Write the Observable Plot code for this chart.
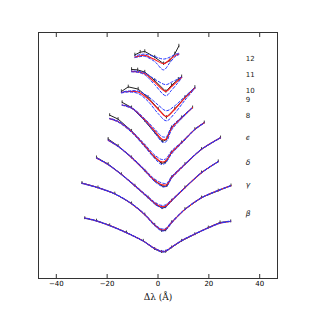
<!DOCTYPE html>
<html><head><meta charset="utf-8">
<script src="https://cdn.jsdelivr.net/npm/d3@7"></script>
<script src="https://cdn.jsdelivr.net/npm/@observablehq/plot@0.6"></script>
<style>body{margin:0;background:#fff}</style>
</head><body><div id="chart"></div>
<script>
// Series names (Balmer lines), bottom to top
const lineNames = ["β","γ","δ","ϵ","8","9","10","11","12"];
const labelY = [2.62, 3.81, 4.72, 5.71, 6.61, 7.25, 7.62, 8.27, 8.92];
const labelX = 34.5;
const xTicks = [-40, -20, 0, 20, 40];

// Wavelength offsets of sampled points (Å), one list per line
const lineX = [
  [-28.8,-24.2,-19.0,-12.4,-5.8,-1.3,1.4,3.0,5.3,9.3,14.5,19.8,24.4,28.6],
  [-29.9,-23.6,-17.0,-10.4,-5.2,-1.3,1.4,3.0,5.3,10.6,17.1,23.7,28.7],
  [-24.2,-19.6,-14.4,-9.1,-3.9,-0.7,1.6,3.0,5.3,10.6,17.1,23.7],
  [-19.6,-15.7,-10.4,-5.2,-1.3,2.0,3.5,5.3,10.6,17.1,24.6],
  [-19.0,-15.7,-10.4,-5.2,-1.3,1.4,3.0,5.3,9.3,14.5,18.2],
  [-14.1,-10.4,-5.2,-1.3,1.8,3.3,5.3,9.3,13.6],
  [-14.4,-11.7,-7.8,-3.9,0.1,3.3,6.6,10.6,14.5],
  [-10.4,-8.0,-5.2,-1.3,3.1,5.3,8.0,9.3],
  [-9.1,-7.0,-5.2,-1.3,2.2,4.7,6.6,8.2]
];
// Observed (offset) profiles
const lineObs = [
  [2.45,2.35,2.16,1.87,1.53,1.20,1.08,1.09,1.26,1.53,1.80,2.07,2.28,2.32],
  [3.88,3.70,3.45,3.05,2.60,2.18,1.94,1.96,2.28,2.82,3.29,3.57,3.78],
  [4.92,4.65,4.24,3.77,3.29,3.00,2.86,2.90,3.16,3.70,4.31,4.76],
  [5.67,5.39,4.92,4.38,3.97,3.74,3.76,4.11,4.65,5.26,5.73],
  [6.64,6.48,6.00,5.39,4.92,4.68,4.72,5.12,5.53,6.07,6.34],
  [7.16,6.95,6.41,5.93,5.57,5.65,6.14,6.55,6.95],
  [7.60,7.79,7.70,7.36,6.89,6.55,6.89,7.36,7.77],
  [8.50,8.48,8.39,8.05,7.60,7.85,8.10,8.20],
  [9.09,9.20,9.23,9.00,8.73,8.86,9.13,9.45]
];
const obsErr = [0.06,0.06,0.06,0.06,0.06,0.06,0.07,0.07,0.07];
// Best fit (red)
const lineFit = [
  [2.46,2.34,2.15,1.86,1.52,1.22,1.10,1.12,1.27,1.54,1.81,2.06,2.25,2.33],
  [3.87,3.69,3.44,3.04,2.60,2.17,1.98,2.00,2.27,2.81,3.28,3.58,3.77],
  [4.90,4.63,4.23,3.77,3.30,3.02,2.92,2.95,3.17,3.69,4.30,4.75],
  [5.62,5.37,4.92,4.40,3.99,3.80,3.82,4.10,4.64,5.25,5.72],
  [6.50,6.38,5.97,5.40,4.95,4.74,4.78,5.12,5.52,6.06,6.33],
  [7.05,6.93,6.45,6.00,5.65,5.67,6.10,6.53,6.95],
  [7.56,7.60,7.58,7.30,6.88,6.58,6.88,7.34,7.75],
  [8.42,8.40,8.32,7.98,7.60,7.80,8.05,8.18],
  [9.00,9.05,9.07,8.90,8.73,8.90,9.05,9.13]
];
// Bounding fits (blue dashed): shallow and deep
const lineFitHi = [
  [2.47,2.35,2.16,1.87,1.53,1.23,1.12,1.14,1.28,1.55,1.82,2.07,2.26,2.34],
  [3.88,3.70,3.45,3.05,2.62,2.20,2.02,2.04,2.30,2.82,3.29,3.59,3.78],
  [4.91,4.64,4.24,3.79,3.33,3.06,2.97,3.00,3.20,3.70,4.31,4.76],
  [5.63,5.38,4.94,4.43,4.04,3.87,3.88,4.14,4.66,5.26,5.73],
  [6.51,6.40,6.00,5.45,5.02,4.84,4.86,5.18,5.55,6.07,6.34],
  [7.06,6.95,6.49,6.07,5.76,5.77,6.17,6.56,6.96],
  [7.58,7.62,7.62,7.40,7.05,6.82,7.02,7.40,7.77],
  [8.44,8.42,8.36,8.10,7.88,7.98,8.12,8.20],
  [9.05,9.10,9.12,9.02,8.92,9.00,9.10,9.16]
];
const lineFitLo = [
  [2.45,2.33,2.14,1.85,1.51,1.20,1.08,1.10,1.26,1.53,1.80,2.05,2.24,2.32],
  [3.86,3.68,3.43,3.03,2.58,2.14,1.94,1.96,2.24,2.80,3.27,3.57,3.76],
  [4.89,4.62,4.22,3.75,3.27,2.98,2.87,2.90,3.14,3.68,4.29,4.74],
  [5.61,5.36,4.90,4.37,3.94,3.73,3.76,4.06,4.62,5.24,5.71],
  [6.49,6.36,5.94,5.35,4.88,4.64,4.70,5.06,5.49,6.05,6.32],
  [7.04,6.91,6.41,5.93,5.54,5.57,6.03,6.50,6.94],
  [7.54,7.58,7.52,7.20,6.70,6.41,6.72,7.25,7.72],
  [8.40,8.38,8.28,7.88,7.43,7.65,7.98,8.15],
  [8.98,9.02,9.03,8.82,8.48,8.78,9.00,9.10]
];

const rows = lineNames.flatMap((name, i) => lineX[i].map((x, j) => ({
  name, x,
  obs: lineObs[i][j], err: obsErr[i],
  fit: lineFit[i][j], hi: lineFitHi[i][j], lo: lineFitLo[i][j]
})));
const labels = lineNames.map((name, i) => ({name, y: labelY[i], greek: i < 4}));

const plot = Plot.plot({
  width: 309, height: 309,
  marginLeft: 38, marginRight: 32, marginTop: 32, marginBottom: 31,
  style: {background: "#fff", fontFamily: "DejaVu Sans"},
  x: {domain: [-47, 47]},
  y: {domain: [0, 10], axis: null},
  marks: [
    Plot.ruleX(rows, {x: "x", y1: d => d.obs - d.err, y2: d => d.obs + d.err, stroke: "#444", strokeWidth: 1}),
    Plot.line(rows, {x: "x", y: "obs", z: "name", stroke: "#222", strokeWidth: 1}),
    Plot.line(rows, {x: "x", y: "fit", z: "name", stroke: "#ff1a1a", strokeWidth: 1.1, curve: "catmull-rom"}),
    Plot.line(rows, {x: "x", y: "lo", z: "name", stroke: "#2233ff", strokeWidth: 1, strokeDasharray: "2.5,2", curve: "catmull-rom"}),
    Plot.line(rows, {x: "x", y: "hi", z: "name", stroke: "#2233ff", strokeWidth: 1, strokeDasharray: "2.5,2", strokeDashoffset: 2, curve: "catmull-rom"}),
    Plot.text(labels.filter(d => !d.greek), {x: () => labelX, y: "y", text: "name", textAnchor: "start", fontSize: 7, fill: "#222"}),
    Plot.text(labels.filter(d => d.greek), {x: () => labelX, y: "y", text: "name", textAnchor: "start", fontSize: 7.5, fontStyle: "italic", fill: "#222"}),
    Plot.frame({stroke: "#333"}),
    Plot.axisX(xTicks, {tickSize: 0, tickPadding: 3, fontSize: 7, label: null}),
    Plot.axisX(xTicks, {tickSize: -4, tickFormat: () => "", label: null, stroke: "#333"}),
    Plot.axisX(xTicks, {anchor: "top", tickSize: -4, tickFormat: () => "", label: null, stroke: "#333"}),
    Plot.text(["Δλ (Å)"], {frameAnchor: "bottom", dy: 19, lineAnchor: "middle", fontSize: 9, fontFamily: "DejaVu Serif", fill: "#111"})
  ]
});
document.getElementById("chart").appendChild(plot);
</script>
</body></html>
